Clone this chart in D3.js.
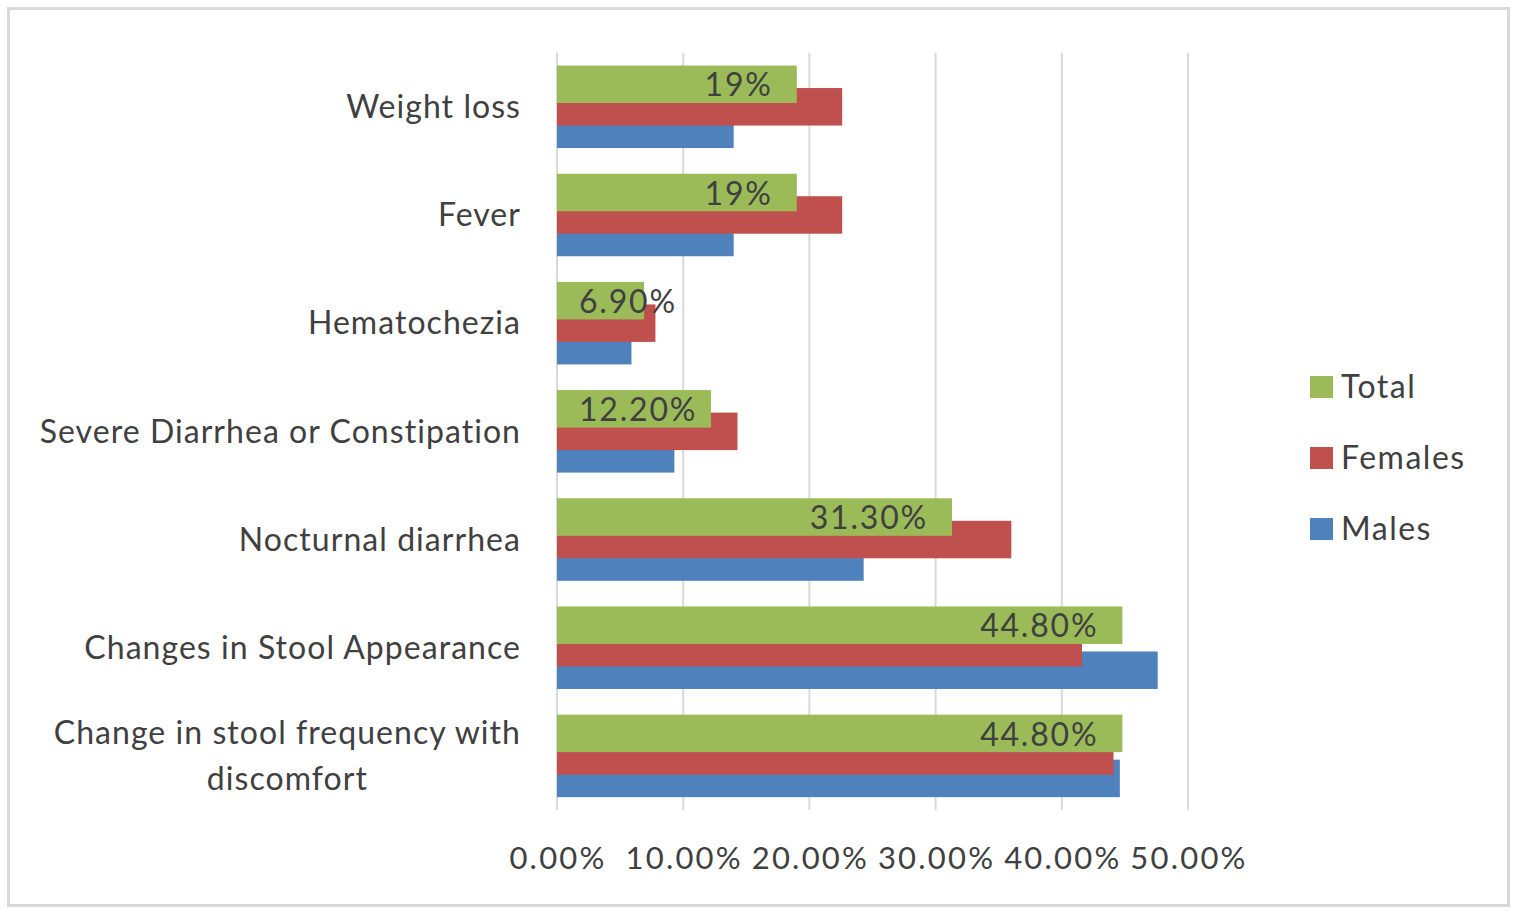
<!DOCTYPE html>
<html>
<head>
<meta charset="utf-8">
<script src="https://cdn.jsdelivr.net/npm/d3@7"></script>
<style>
  body { margin: 0; background: #fff; }
  svg { display: block; }
  text { font-family: Lato, "Open Sans", sans-serif; fill: #404040; }
</style>
</head>
<body>
<svg></svg>
<script>
// categories top to bottom, values in percent
var categories = ["Weight loss", "Fever", "Hematochezia", "Severe Diarrhea or Constipation",
    "Nocturnal diarrhea", "Changes in Stool Appearance", "Change in stool frequency with discomfort"];
var totalValues  = [19, 19, 6.9, 12.2, 31.3, 44.8, 44.8];
var femaleValues = [22.6, 22.6, 7.8, 14.3, 36.0, 41.6, 44.1];
var maleValues   = [14.0, 14.0, 5.9, 9.3, 24.3, 47.6, 44.6];
var totalLabels  = ["19%", "19%", "6.90%", "12.20%", "31.30%", "44.80%", "44.80%"];
var tickValues   = [0, 10, 20, 30, 40, 50];
var seriesNames  = ["Total", "Females", "Males"];
var seriesColors = ["#9bbb59", "#c0504d", "#4f81bd"];

var svgWidth = 1516, svgHeight = 914;
var svg = d3.select("svg").attr("width", svgWidth).attr("height", svgHeight);

// outer frame
svg.append("rect")
    .attr("x", 8.5).attr("y", 8.5)
    .attr("width", 1500).attr("height", 897)
    .attr("fill", "#fff").attr("stroke", "#d9d9d9").attr("stroke-width", 3);

var x = d3.scaleLinear().domain([0, 50]).range([557, 1188]);
var y = d3.scaleBand().domain(categories).range([52.7, 810]);
var offset = d3.scalePoint().domain(seriesNames).range([-22.5, 22.5]);
var barH = 37.5;

// gridlines
svg.selectAll(".grid")
    .data(tickValues)
    .enter()
    .append("line")
    .attr("x1", function(d) { return x(d); })
    .attr("x2", function(d) { return x(d); })
    .attr("y1", 52.7).attr("y2", 810)
    .attr("stroke", "#d9d9d9").attr("stroke-width", 2);

// x tick labels
svg.selectAll(".tick")
    .data(tickValues)
    .enter()
    .append("text")
    .attr("x", function(d) { return x(d) + 1; })
    .attr("y", 858)
    .attr("dy", "0.35em")
    .attr("text-anchor", "middle")
    .style("font-size", "31px")
    .style("letter-spacing", "2.2px")
    .text(function(d) { return d.toFixed(2) + "%"; });

// bars: males first, females, total on top
var series = [
    { name: "Males", values: maleValues, color: seriesColors[2] },
    { name: "Females", values: femaleValues, color: seriesColors[1] },
    { name: "Total", values: totalValues, color: seriesColors[0] }
];

series.forEach(function(s) {
    svg.append("g").selectAll("rect")
        .data(s.values)
        .enter()
        .append("rect")
        .attr("x", x(0))
        .attr("y", function(d, i) {
            return y(categories[i]) + y.bandwidth() / 2 + offset(s.name) - barH / 2;
        })
        .attr("width", function(d) { return x(d) - x(0); })
        .attr("height", barH)
        .attr("fill", s.color);
});

// data labels on total bars
svg.append("g").selectAll("text")
    .data(totalValues)
    .enter()
    .append("text")
    .attr("y", function(d, i) {
        return y(categories[i]) + y.bandwidth() / 2 + offset("Total") + 1;
    })
    .attr("dy", "0.35em")
    .style("font-size", "32px")
    .style("letter-spacing", "1.8px")
    .text(function(d, i) { return totalLabels[i]; })
    .attr("x", function(d) {
        var w = this.getComputedTextLength();
        var left = x(d) - 24 - w;
        return Math.max(left, x(0) + 22);
    });

// category labels
svg.append("g").selectAll("text")
    .data(categories)
    .enter()
    .append("text")
    .attr("text-anchor", "end")
    .attr("x", 521)
    .attr("y", function(d) { return y(d) + y.bandwidth() / 2; })
    .attr("dy", "0.35em")
    .style("font-size", "32px")
    .style("letter-spacing", "1.05px")
    .each(function(d) {
        var t = d3.select(this);
        if (d.length > 35) {
            var lines = ["Change in stool frequency with", "discomfort"];
            t.text(lines[0]).attr("dy", "-0.37em");
            var w = this.getComputedTextLength();
            t.append("tspan")
                .attr("x", 521 - w / 2)
                .attr("dy", "1.44em")
                .attr("text-anchor", "middle")
                .text(lines[1]);
        } else {
            t.text(d);
        }
    });

// legend
var legend = svg.append("g").selectAll("g")
    .data(seriesNames)
    .enter()
    .append("g")
    .attr("transform", function(d, i) { return "translate(1310," + (387 + i * 71) + ")"; });

legend.append("rect")
    .attr("x", 0).attr("y", -11)
    .attr("width", 23).attr("height", 22)
    .attr("fill", function(d, i) { return seriesColors[i]; });

legend.append("text")
    .attr("x", 31)
    .attr("dy", "0.35em")
    .style("font-size", "32px")
    .style("letter-spacing", "1.5px")
    .text(function(d) { return d; });
</script>
</body>
</html>
